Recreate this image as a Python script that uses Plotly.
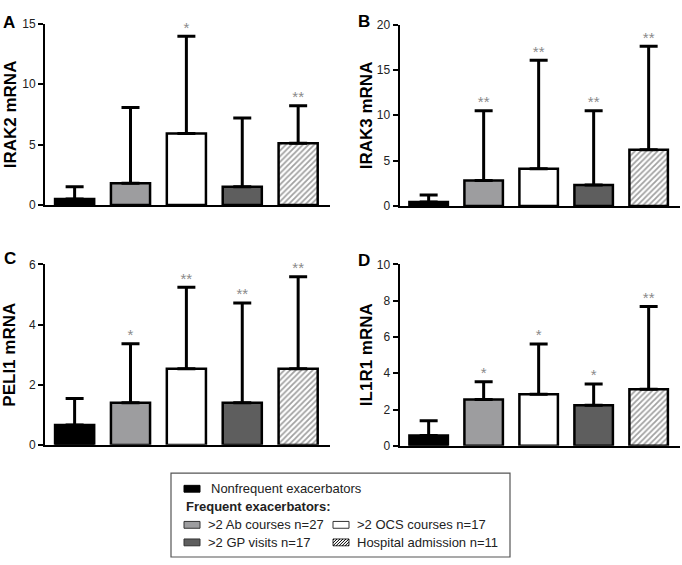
import plotly.graph_objects as go

# ---------------- data ----------------
groups = ["Nonfrequent exacerbators", ">2 Ab courses n=27", ">2 OCS courses n=17",
          ">2 GP visits n=17", "Hospital admission n=11"]
positions = [0, 1, 2, 3, 4]

irak2_mean = [0.5, 1.8, 5.9, 1.5, 5.1]
irak2_sd = [1.0, 6.25, 8.05, 5.7, 3.1]
irak2_sig = ["", "", "*", "", "**"]

irak3_mean = [0.43, 2.8, 4.1, 2.3, 6.2]
irak3_sd = [0.77, 7.7, 11.95, 8.2, 11.4]
irak3_sig = ["", "**", "**", "**", "**"]

peli1_mean = [0.66, 1.4, 2.53, 1.4, 2.53]
peli1_sd = [0.88, 1.96, 2.71, 3.32, 3.06]
peli1_sig = ["", "*", "**", "**", "**"]

il1r1_mean = [0.57, 2.55, 2.84, 2.24, 3.12]
il1r1_sd = [0.81, 0.99, 2.78, 1.17, 4.56]
il1r1_sig = ["", "*", "*", "*", "**"]

panels = [
    ("A", "IRAK2 mRNA", irak2_mean, irak2_sd, irak2_sig, [0, 15], 5),
    ("B", "IRAK3 mRNA", irak3_mean, irak3_sd, irak3_sig, [0, 20], 5),
    ("C", "PELI1 mRNA", peli1_mean, peli1_sd, peli1_sig, [0, 6], 2),
    ("D", "IL1R1 mRNA", il1r1_mean, il1r1_sd, il1r1_sig, [0, 10], 2),
]

# ---------------- styling ----------------
W, H = 682, 565
FONT = "Arial, Liberation Sans, sans-serif"
bar_colors = ["#000000", "#9d9d9f", "#ffffff", "#5e5e5e", "#ffffff"]
bar_patterns = ["", "", "", "", "/"]


def fx(p):
    return p / W


def fy(p):
    return 1 - p / H


# pixel boxes: (left, right, top, bottom)
boxes = [(45, 330, 17, 203), (399.5, 680, 18, 204), (45, 330, 264, 449), (399.5, 680, 264, 450)]
letter_pos = [(1, 4), (356, 3), (2, 246), (356, 248)]
title_x = [10, 366, 10, 366]

fig = go.Figure()
layout = dict(width=W, height=H, margin=dict(l=0, r=0, t=0, b=0),
              paper_bgcolor="white", plot_bgcolor="white", showlegend=False,
              font=dict(family=FONT, color="#222"))
annotations = []
shapes = []

for i, (letter, title, mean, sd, sig, yr, dt) in enumerate(panels):
    n = "" if i == 0 else str(i + 1)
    xa, ya = "x" + n, "y" + n
    fig.add_trace(go.Bar(
        x=positions, y=mean, xaxis=xa, yaxis=ya, width=0.7,
        marker=dict(color=bar_colors, line=dict(color="black", width=2.5),
                    pattern=dict(shape=bar_patterns, fgcolor="black", bgcolor="white",
                                 size=4, solidity=0.45)),
        error_y=dict(type="data", symmetric=False, array=sd, arrayminus=[0] * 5,
                     color="black", thickness=3, width=9),
        hoverinfo="skip",
    ))
    tops = [m + s for m, s in zip(mean, sd)]
    fig.add_trace(go.Scatter(
        x=positions, y=tops, xaxis=xa, yaxis=ya, mode="text", text=sig,
        textposition="top center", textfont=dict(size=15, color="#8a8a8a", family=FONT),
        hoverinfo="skip", cliponaxis=False,
    ))
    l, r, t, b = boxes[i]
    layout["xaxis" + n] = dict(domain=[fx(l), fx(r)], range=[-0.53, 4.57], anchor=ya,
                               showline=True, linecolor="black", linewidth=2,
                               showticklabels=False, ticks="", showgrid=False, zeroline=False,
                               fixedrange=True)
    layout["yaxis" + n] = dict(domain=[fy(b), fy(t)], range=yr, dtick=dt, anchor=xa,
                               showline=True, linecolor="black", linewidth=2,
                               ticks="outside", ticklen=5, tickwidth=2, tickcolor="black",
                               tickfont=dict(size=12, color="#222", family=FONT),
                               showgrid=False, zeroline=False, fixedrange=True)
    annotations.append(dict(text=title, x=fx(title_x[i]), y=fy((t + b) / 2), xref="paper",
                            yref="paper", xanchor="center", yanchor="middle", textangle=-90,
                            showarrow=False,
                            font=dict(size=17, color="black", family=FONT, weight="bold")))
    lx, ly = letter_pos[i]
    annotations.append(dict(text=letter, x=fx(lx), y=fy(ly), xref="paper", yref="paper",
                            xanchor="left", yanchor="top", showarrow=False,
                            font=dict(size=17, color="black", family=FONT, weight="bold")))

# ---------------- custom legend ----------------
shapes.append(dict(type="rect", xref="paper", yref="paper", x0=fx(171), x1=fx(510),
                   y0=fy(564), y1=fy(478), line=dict(color="#555", width=1.2),
                   fillcolor="white", layer="below"))
legend_rows = [
    (0, 184, 494),
    (1, 184, 531),
    (2, 333, 531),
    (3, 184, 549),
    (4, 333, 549),
]
for gi, sx, sy in legend_rows:
    x0, x1, y0, y1 = sx, sx + 16, sy - 3.5, sy + 3.5
    edge = "#333" if gi != 0 else "black"
    shapes.append(dict(type="rect", xref="paper", yref="paper", x0=fx(x0), x1=fx(x1),
                       y0=fy(y1), y1=fy(y0), fillcolor=bar_colors[gi],
                       line=dict(color=edge, width=1)))
    if bar_patterns[gi] == "/":
        step = 3
        c = x0 + y0 + 1
        while c < x1 + y1:
            xa_ = max(x0, c - y1)
            xb_ = min(x1, c - y0)
            if xb_ > xa_:
                shapes.append(dict(type="line", xref="paper", yref="paper",
                                   x0=fx(xa_), y0=fy(c - xa_), x1=fx(xb_), y1=fy(c - xb_),
                                   line=dict(color="black", width=1)))
            c += step
    annotations.append(dict(text=groups[gi], x=fx(x1 + 6 + (3 if gi == 0 else 0)), y=fy(sy),
                            xref="paper", yref="paper", xanchor="left", yanchor="middle",
                            showarrow=False, font=dict(size=13, color="#222", family=FONT)))
annotations.append(dict(text="Frequent exacerbators:", x=fx(184), y=fy(512.5), xref="paper",
                        yref="paper", xanchor="left", yanchor="middle", showarrow=False,
                        font=dict(size=13, color="#222", family=FONT, weight="bold")))

layout["annotations"] = annotations
layout["shapes"] = shapes
fig.update_layout(**layout)
fig.write_html("out.html", config={"displayModeBar": False, "staticPlot": True},
               post_script="document.body.style.margin='0';document.body.style.padding='0';"
                           "document.body.style.overflow='hidden';")
